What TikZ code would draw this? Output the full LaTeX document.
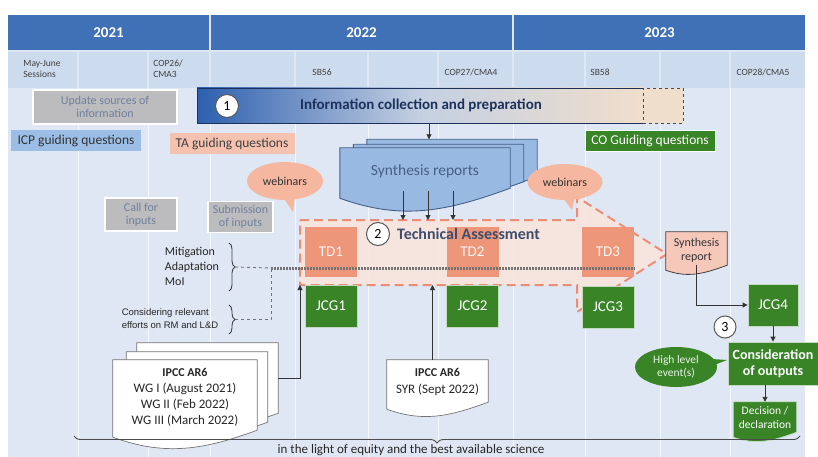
\documentclass[tikz,border=0pt]{standalone}
\usepackage{fontspec}
\setmainfont{Carlito}
\newfontfamily\arialfont{Liberation Sans}
\usepackage{tikz}
\usetikzlibrary{positioning,shapes.callouts,arrows.meta,decorations.pathreplacing}

\definecolor{hdrblue}{RGB}{64,112,182}
\definecolor{rowblue}{RGB}{205,219,238}
\definecolor{panelblue}{RGB}{222,231,243}
\definecolor{greyfill}{RGB}{188,188,190}
\definecolor{greytext}{RGB}{110,128,158}
\definecolor{icpblue}{RGB}{156,190,230}
\definecolor{tapink}{RGB}{246,194,176}
\definecolor{cogreen}{RGB}{56,132,38}
\definecolor{tdsalmon}{RGB}{237,150,122}
\definecolor{tafill}{RGB}{251,228,220}
\definecolor{tadash}{RGB}{232,142,120}
\definecolor{synblue}{RGB}{152,186,226}
\definecolor{synline}{RGB}{70,95,135}
\definecolor{navy}{RGB}{28,50,92}
\definecolor{tatext}{RGB}{62,78,108}
\definecolor{webpink}{RGB}{245,183,160}
\definecolor{docpink}{RGB}{246,200,186}
\definecolor{infoblue}{RGB}{45,95,175}
\definecolor{infomid}{RGB}{196,208,226}
\definecolor{infobeige}{RGB}{240,222,204}

% wavy document outline round a node: node, dip, style
\newcommand\docoutline[3]{%
  \path[#3] (#1.north west) -- (#1.north east) -- (#1.south east)
    to[out=200,in=-20] ([yshift=-#2]#1.south west) -- cycle;}

\begin{document}
\begin{tikzpicture}[
    x=1pt, y=-1pt,
    every node/.style={inner sep=2pt, align=center},
    hdr/.style={fill=hdrblue, text=white, minimum height=35,
      font=\bfseries\fontsize{15}{17}\selectfont},
    rowtxt/.style={text=black!75, align=left, font=\fontsize{9.5}{11}\selectfont},
    greybox/.style={fill=greyfill, draw=white, line width=1.2, text=greytext,
      font=\fontsize{12}{13}\selectfont},
    qbox/.style={minimum height=21, font=\fontsize{13.5}{14}\selectfont},
    tdbox/.style={fill=tdsalmon, text=white!90!tdsalmon, minimum width=52, minimum height=50,
      font=\fontsize{15}{16}\selectfont},
    jcgbox/.style={fill=cogreen, draw=white!70!cogreen, line width=0.8, text=white,
      minimum width=52, minimum height=42, font=\fontsize{15}{16}\selectfont},
    numcirc/.style={circle, fill=white, draw=black!65, line width=1, minimum size=23,
      inner sep=0pt, font=\fontsize{14}{14}\selectfont},
    webinar/.style={ellipse callout, fill=webpink, text=black!80,
      font=\fontsize{12}{13}\selectfont},
    docline/.style={draw=synline, line width=0.9},
    arr/.style={-{Triangle[length=5pt,width=5pt]}, draw=black!80, line width=0.9},
    sidetxt/.style={align=left, text=black!85, font=\fontsize{12}{15}\selectfont},
    bracefig/.style={decorate, decoration={brace, amplitude=6pt}, draw=black!75, line width=0.9},
    dashlink/.style={draw=black!55, dashed, line width=0.9},
    tashape/.style={fill=tafill, fill opacity=0.85, draw=tadash, line width=2,
      dash pattern=on 9pt off 5pt}
]
\useasboundingbox (0,0) rectangle (818,457);
\fill[white] (0,0) rectangle (818,457);
\fill[panelblue] (8,15) rectangle (805,457);

% Years
\node[hdr, minimum width=201] (y2021) at (108.5,32.5) {2021};
\node[hdr, minimum width=301] (y2022) at (361.5,32.5) {2022};
\node[hdr, minimum width=291] (y2023) at (659.5,32.5) {2023};

% Sessions
\foreach \a/\b in {8/77,79/147,149/209,211/294,296/367,369/437,439/512,514/584,586/659,661/729,731/805}
  \fill[rowblue] (\a,52) rectangle (\b,88);
\foreach \x in {78,148,210,295,368,438,513,585,660,730}
  \draw[white!65!panelblue, line width=1] (\x,88) -- (\x,457);

\node[rowtxt] (mayjune) at (42,69) {May-June\\Sessions};
\node[rowtxt] (cop26) at (168,69) {COP26/\\CMA3};
\node[rowtxt] (sb56) at (322,72) {SB56};
\node[rowtxt] (cop27) at (471,72) {COP27/CMA4};
\node[rowtxt] (sb58) at (600,72) {SB58};
\node[rowtxt] (cop28) at (763,72) {COP28/CMA5};

% Technical assessment arrow
\coordinate (ta1) at (300,220);
\coordinate (ta2) at (577,220);
\coordinate (ta3) at (577,197);
\coordinate (ta4) at (667,254);
\coordinate (ta5) at (577,312);
\coordinate (ta6) at (577,285);
\coordinate (ta7) at (300,285);
\path[tashape] (ta1) -- (ta2) -- (ta3) -- (ta4) -- (ta5) -- (ta6) -- (ta7) -- cycle;

% Phase 1
\node[greybox, minimum width=144, minimum height=34] (update) at (105,107) {Update sources of\\information};
\node[draw=navy, line width=0.8, left color=infoblue, right color=infobeige, middle color=infomid,
  minimum width=446, minimum height=35, text=navy, font=\bfseries\fontsize{15}{16}\selectfont]
  (info) at (420,105.5) {\hspace{2pt}Information collection and preparation};
\node[fill=infobeige, draw=black!70, dashed, line width=0.9, minimum width=40, minimum height=35]
  (infoext) at (663,105.5) {};
\node[numcirc] (n1) at (227,106) {1};

\node[qbox, fill=icpblue, text=black!80, minimum width=130] (icp) at (76,141) {ICP guiding questions};
\node[qbox, fill=tapink, text=black!75, minimum width=125] (taq) at (232,144) {TA guiding questions};
\node[qbox, fill=cogreen, draw=white, line width=1, text=white, minimum width=130] (coq) at (650,141) {CO Guiding questions};

% Synthesis reports
\node[minimum width=170, minimum height=37] (synC) at (452,158) {};
\node[minimum width=170, minimum height=37] (synB) at (438.5,163) {};
\node[minimum width=170, minimum height=40] (synrep) at (425,168) {};
\docoutline{synC}{8}{docline, fill=synblue}
\docoutline{synB}{8}{docline, fill=synblue}
\docoutline{synrep}{10}{docline, fill=synblue}
\node[text=synline, font=\fontsize{15.5}{16}\selectfont] (syntxt) at (425,171) {Synthesis reports};

% Technical assessment content
\node[tdbox] (td1) at (331,252) {TD1};
\node[tdbox] (td2) at (472.5,252) {TD2};
\node[tdbox] (td3) at (608,252) {TD3};
\node[jcgbox] (jcg1) at (331,306) {JCG1};
\node[jcgbox] (jcg2) at (472.5,306) {JCG2};
\node[jcgbox] (jcg3) at (608,307) {JCG3};
\node[jcgbox, minimum width=50] (jcg4) at (773,305) {JCG4};
\node[numcirc] (n2) at (378,234) {2};
\node[anchor=west, text=tatext, font=\bfseries\fontsize{16}{17}\selectfont] (tatitle) at (395,234) {Technical Assessment};

\node[webinar, minimum width=76, minimum height=38, callout absolute pointer={(293,212)}] (web1) at (285,181) {webinars};
\node[webinar, minimum width=75, minimum height=36, callout absolute pointer={(572,210)}] (web2) at (565,182) {webinars};

% Inputs
\node[greybox, minimum width=72, minimum height=33] (callin) at (141,214.5) {Call for\\inputs};
\node[greybox, minimum width=65, minimum height=31] (subin) at (240.5,217) {Submission\\of inputs};
\node[sidetxt] (themes) at (192,266) {Mitigation\\Adaptation\\MoI};
\node[align=left, text=black!85, font=\arialfont\fontsize{9.5}{13}\selectfont] (rmld) at (170,318.5)
  {Considering relevant\\efforts on RM and L\&D};
\coordinate (joint) at (271,268);
\draw[bracefig] (229,243) -- (229,291) coordinate[midway, xshift=6pt] (themetip);
\draw[bracefig] (229,305) -- (229,334) coordinate[midway, xshift=6pt] (rmtip);
\draw[dashlink] (themetip) -- (joint);
\draw[dashlink] (rmtip) -| (joint);
\draw[draw=black!55, line width=3, dash pattern=on 1.5pt off 1.5pt] (joint) -- (td3.east |- joint);

% IPCC reports
\node[minimum width=141, minimum height=70] (ipccC) at (207.5,378) {};
\node[minimum width=141, minimum height=70] (ipccB) at (197,387) {};
\node[minimum width=144, minimum height=70] (ipcc) at (185,395) {};
\docoutline{ipccC}{6}{draw=black!55, line width=0.7, fill=white}
\docoutline{ipccB}{6}{draw=black!55, line width=0.7, fill=white}
\docoutline{ipcc}{7}{draw=black!55, line width=0.7, fill=white}
\node[text=black!85, font=\fontsize{13}{16}\selectfont] (ipcctxt) at (185,397)
  {\textbf{\fontsize{12}{16}\selectfont IPCC AR6}\\WG I (August 2021)\\WG II (Feb 2022)\\WG III (March 2022)};
\node[minimum width=101, minimum height=42] (syr) at (437.5,381) {};
\docoutline{syr}{7}{draw=black!55, line width=0.7, fill=white}
\node[text=black!85, font=\fontsize{13}{17}\selectfont] (syrtxt) at (437.5,382)
  {\textbf{\fontsize{12}{17}\selectfont IPCC AR6}\\SYR (Sept 2022)};

% Phase 3
\node[minimum width=61, minimum height=33] (synone) at (696.5,248.5) {};
\docoutline{synone}{5}{draw=black!75, line width=0.8, fill=docpink}
\node[text=black!80, font=\fontsize{12}{14}\selectfont] (synonetxt) at (696.5,250) {Synthesis\\report};
\node[numcirc, minimum size=22] (n3) at (725,327) {3};
\node[fill=cogreen, draw=white!70!cogreen, line width=0.8, text=white, minimum width=90, minimum height=43,
  inner sep=1pt, font=\bfseries\fontsize{14}{16}\selectfont] (consid) at (773,363.5) {Consideration\\of outputs};
\node[ellipse callout, fill=cogreen, text=white!90!cogreen, minimum width=82, minimum height=40,
  font=\fontsize{11.5}{13}\selectfont, callout absolute pointer={(727,360)}] (hle) at (676,367) {High level\\event(s)};
\node[minimum width=63, minimum height=30] (decis) at (765,417) {};
\docoutline{decis}{5}{draw=white!70!cogreen, line width=0.8, fill=cogreen}
\node[text=white, font=\fontsize{11.5}{14}\selectfont] (decistxt) at (765,418) {Decision /\\declaration};

% Edges
\draw[arr] ([xshift=9pt]info.south) -- ([xshift=9pt]info.south |- synC.north);
\foreach \dx in {-22,3,28}
  \draw[arr] ([xshift=\dx pt,yshift=-3pt]synrep.south) -- ([xshift=\dx pt]synrep.south |- ta1);
\draw[arr] (ipccC.east) -| (ta7);
\draw[arr] ([xshift=-5pt]syr.north) -- ([xshift=-5pt]syr.north |- ta7);
\draw[arr] (synone.south) |- (jcg4.west);
\draw[arr] (jcg4.south) -- (jcg4.south |- consid.north);
\draw[arr] (consid.south -| decis.north) -- (decis.north);

% Bottom brace
\draw[decorate, decoration={brace, amplitude=7pt, aspect=0.5}, draw=black!70, line width=0.9]
  (800,436) -- (74,436) coordinate[midway] (basemid);
\node[text=black!85, font=\fontsize{13}{13}\selectfont] (basetxt) at (411,450)
  {in the light of equity and the best available science};
\end{tikzpicture}
\end{document}
